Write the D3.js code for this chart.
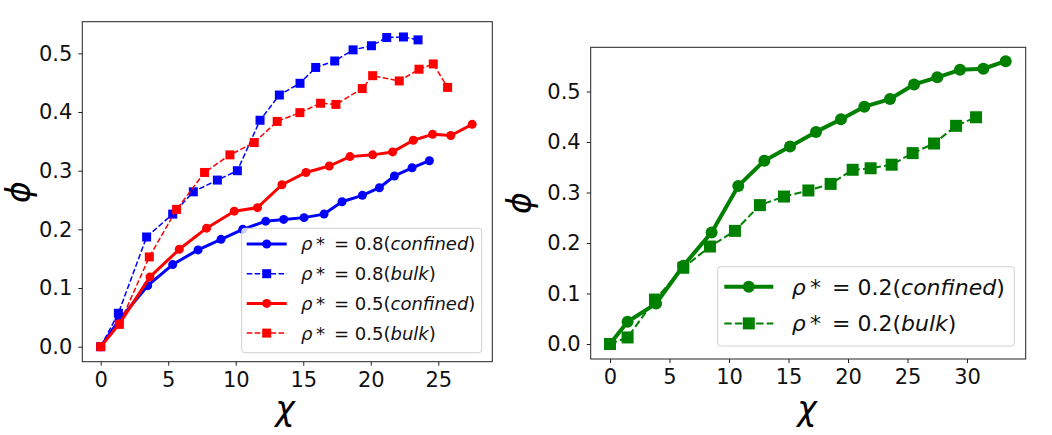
<!DOCTYPE html>
<html>
<head>
<meta charset="utf-8">
<script src="https://cdn.jsdelivr.net/npm/d3@7"></script>
<style>
  body { margin: 0; background: #fff; }
  svg { font-family: "DejaVu Sans", sans-serif; }
</style>
</head>
<body>
<div class="chart"></div>
<script>
// left panel: rho* = 0.8 and 0.5
var blueConfinedX = [0, 1.35, 3.48, 5.33, 7.21, 8.91, 10.52, 12.22, 13.55, 15.06, 16.54, 17.87, 19.38, 20.64, 21.75, 23.06, 24.34];
var blueConfinedY = [0, 0.045, 0.104, 0.140, 0.165, 0.183, 0.200, 0.214, 0.217, 0.220, 0.226, 0.247, 0.258, 0.271, 0.291, 0.305, 0.317];
var blueBulkX = [0, 1.31, 3.40, 5.33, 6.86, 8.64, 10.12, 11.80, 13.23, 14.76, 15.92, 17.33, 18.69, 20.05, 21.18, 22.42, 23.50];
var blueBulkY = [0, 0.057, 0.187, 0.226, 0.264, 0.284, 0.300, 0.386, 0.429, 0.449, 0.476, 0.487, 0.506, 0.513, 0.527, 0.528, 0.523];
var redConfinedX = [0, 1.38, 3.65, 5.82, 7.84, 9.89, 11.61, 13.42, 15.20, 16.93, 18.46, 20.14, 21.62, 23.15, 24.58, 25.93, 27.51];
var redConfinedY = [0, 0.039, 0.119, 0.166, 0.202, 0.231, 0.237, 0.276, 0.297, 0.308, 0.324, 0.327, 0.332, 0.352, 0.362, 0.360, 0.379];
var redBulkX = [0, 1.38, 3.60, 5.62, 7.69, 9.57, 11.37, 13.07, 14.75, 16.28, 17.42, 19.37, 20.14, 22.11, 23.57, 24.63, 25.69];
var redBulkY = [0, 0.038, 0.153, 0.234, 0.297, 0.327, 0.348, 0.384, 0.399, 0.415, 0.413, 0.440, 0.462, 0.453, 0.473, 0.482, 0.442];

// right panel: rho* = 0.2
var greenConfinedX = [0, 1.48, 3.87, 6.16, 8.54, 10.78, 12.97, 15.13, 17.31, 19.41, 21.37, 23.53, 25.55, 27.50, 29.41, 31.37, 33.25];
var greenConfinedY = [0, 0.044, 0.080, 0.155, 0.221, 0.313, 0.363, 0.391, 0.420, 0.445, 0.470, 0.485, 0.514, 0.528, 0.543, 0.545, 0.560];
var greenBulkX = [0, 1.48, 3.78, 6.16, 8.40, 10.50, 12.60, 14.62, 16.67, 18.54, 20.39, 21.90, 23.67, 25.43, 27.23, 29.08, 30.76];
var greenBulkY = [0, 0.013, 0.088, 0.151, 0.193, 0.224, 0.275, 0.292, 0.304, 0.317, 0.345, 0.348, 0.355, 0.378, 0.397, 0.432, 0.449];

var leftXTicks = [0, 5, 10, 15, 20, 25];
var rightXTicks = [0, 5, 10, 15, 20, 25, 30];
var yTicks = [0, 0.1, 0.2, 0.3, 0.4, 0.5];

var svgWidth = 1052;
var svgHeight = 435;

var svg = d3.select(".chart")
  .append("svg")
  .attr("width", svgWidth)
  .attr("height", svgHeight);

function zip(xs, ys) {
  return xs.map(function(x, i) { return {x: x, y: ys[i]}; });
}

var panels = [
  {
    box: {left: 82.3, right: 492.3, top: 21.7, bottom: 361.7},
    xDomain: [-1.363, 29.0],
    yDomain: [-0.0256, 0.554],
    xTicks: leftXTicks,
    xLabelX: 285, yLabelX: 18, yLabelY: 192,
    series: [
      {data: zip(blueConfinedX, blueConfinedY), color: "#0000ff", dashed: false, label: "0.8", kind: "confined"},
      {data: zip(blueBulkX, blueBulkY), color: "#0000ff", dashed: true, label: "0.8", kind: "bulk"},
      {data: zip(redConfinedX, redConfinedY), color: "#ff0000", dashed: false, label: "0.5", kind: "confined"},
      {data: zip(redBulkX, redBulkY), color: "#ff0000", dashed: true, label: "0.5", kind: "bulk"}
    ],
    lineWidth: 3, dashWidth: 1.5, r: 4.5, sq: 9,
    legend: {x: 241.7, y: 228.3, w: 240, h: 124.4, row0: 15.7, rowStep: 29.7,
             handle0: 5, handle1: 45, textX: 59.3, fontSize: 18, r: 4.5, sq: 9}
  },
  {
    box: {left: 590.7, right: 1025.7, top: 47.3, bottom: 359},
    xDomain: [-1.62, 34.93],
    yDomain: [-0.0297, 0.5875],
    xTicks: rightXTicks,
    xLabelX: 807, yLabelX: 519, yLabelY: 203,
    series: [
      {data: zip(greenConfinedX, greenConfinedY), color: "#008000", dashed: false, label: "0.2", kind: "confined"},
      {data: zip(greenBulkX, greenBulkY), color: "#008000", dashed: true, label: "0.2", kind: "bulk"}
    ],
    lineWidth: 4, dashWidth: 2, r: 6, sq: 12,
    legend: {x: 717.7, y: 266.7, w: 296.6, h: 79.3, row0: 20, rowStep: 36.7,
             handle0: 6.6, handle1: 55.6, textX: 74, fontSize: 22, r: 6, sq: 12}
  }
];

panels.forEach(function(p) {
  var b = p.box;
  var xScale = d3.scaleLinear().domain(p.xDomain).range([b.left, b.right]);
  var yScale = d3.scaleLinear().domain(p.yDomain).range([b.bottom, b.top]);

  var g = svg.append("g");

  // series
  p.series.forEach(function(s) {
    var line = d3.line().x(d => xScale(d.x)).y(d => yScale(d.y));
    g.append("path")
      .datum(s.data)
      .attr("d", line)
      .attr("fill", "none")
      .attr("stroke", s.color)
      .attr("stroke-width", s.dashed ? p.dashWidth : p.lineWidth)
      .attr("stroke-dasharray", s.dashed ? (3.7 * p.dashWidth) + "," + (1.6 * p.dashWidth) : null)
      .attr("stroke-linejoin", "round");

    if (s.dashed) {
      g.selectAll(null)
        .data(s.data)
        .enter()
        .append("rect")
        .attr("x", d => xScale(d.x) - p.sq / 2)
        .attr("y", d => yScale(d.y) - p.sq / 2)
        .attr("width", p.sq)
        .attr("height", p.sq)
        .attr("fill", s.color);
    } else {
      g.selectAll(null)
        .data(s.data)
        .enter()
        .append("circle")
        .attr("cx", d => xScale(d.x))
        .attr("cy", d => yScale(d.y))
        .attr("r", p.r)
        .attr("fill", s.color);
    }
  });

  // axes
  var bottomAxis = d3.axisBottom(xScale).tickValues(p.xTicks).tickSize(4).tickPadding(6).tickSizeOuter(0);
  var leftAxis = d3.axisLeft(yScale).tickValues(yTicks).tickFormat(d3.format(".1f")).tickSize(4).tickPadding(6).tickSizeOuter(0);

  var xg = g.append("g").attr("transform", `translate(0, ${b.bottom})`).call(bottomAxis);
  var yg = g.append("g").attr("transform", `translate(${b.left}, 0)`).call(leftAxis);
  [xg, yg].forEach(function(a) {
    a.select(".domain").remove();
    a.selectAll("line").attr("stroke", "#222").attr("stroke-width", 1);
    a.selectAll("text").attr("font-size", 21).attr("fill", "#111").attr("font-family", "DejaVu Sans");
  });

  // frame
  g.append("rect")
    .attr("x", b.left)
    .attr("y", b.top)
    .attr("width", b.right - b.left)
    .attr("height", b.bottom - b.top)
    .attr("fill", "none")
    .attr("stroke", "#222")
    .attr("stroke-width", 1);

  // axis labels
  g.append("text")
    .attr("x", p.xLabelX)
    .attr("y", 420)
    .attr("text-anchor", "middle")
    .attr("font-size", 33)
    .attr("font-style", "italic")
    .text("χ");

  g.append("text")
    .attr("transform", `translate(${p.yLabelX}, ${p.yLabelY}) rotate(-90)`)
    .attr("text-anchor", "middle")
    .attr("dy", "0.35em")
    .attr("font-size", 33)
    .attr("font-style", "italic")
    .text("ϕ");

  // legend
  var L = p.legend;
  var lg = g.append("g").attr("transform", `translate(${L.x}, ${L.y})`);
  lg.append("rect")
    .attr("width", L.w)
    .attr("height", L.h)
    .attr("rx", 3)
    .attr("fill", "#fff")
    .attr("fill-opacity", 0.8)
    .attr("stroke", "#d0d0d0")
    .attr("stroke-width", 1);

  p.series.forEach(function(s, i) {
    var cy = L.row0 + i * L.rowStep;
    lg.append("line")
      .attr("x1", L.handle0).attr("x2", L.handle1)
      .attr("y1", cy).attr("y2", cy)
      .attr("stroke", s.color)
      .attr("stroke-width", s.dashed ? p.dashWidth : p.lineWidth)
      .attr("stroke-dasharray", s.dashed ? (3.7 * p.dashWidth) + "," + (1.6 * p.dashWidth) : null);
    var mid = (L.handle0 + L.handle1) / 2;
    if (s.dashed) {
      lg.append("rect")
        .attr("x", mid - L.sq / 2).attr("y", cy - L.sq / 2)
        .attr("width", L.sq).attr("height", L.sq)
        .attr("fill", s.color);
    } else {
      lg.append("circle")
        .attr("cx", mid).attr("cy", cy).attr("r", L.r)
        .attr("fill", s.color);
    }
    var t = lg.append("text")
      .attr("x", L.textX)
      .attr("y", cy)
      .attr("dy", "0.36em")
      .attr("font-size", L.fontSize)
      .attr("fill", "#111");
    t.append("tspan").attr("font-style", "italic").text("ρ");
    t.append("tspan").text("\u2009*\u2002= " + s.label + "(");
    t.append("tspan").attr("font-style", "italic").text(s.kind);
    t.append("tspan").text(")");
  });
});
</script>
</body>
</html>
